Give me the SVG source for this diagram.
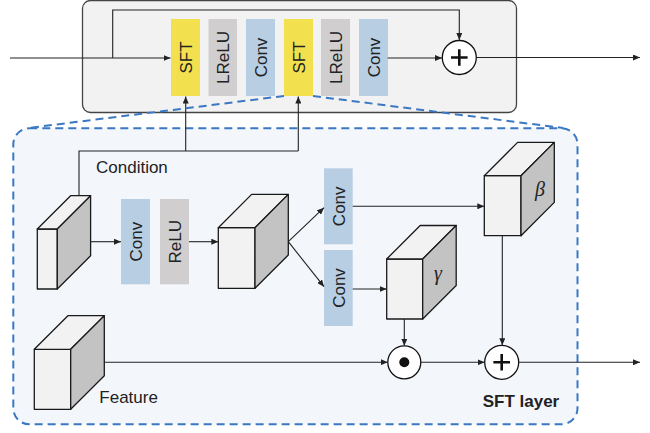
<svg xmlns="http://www.w3.org/2000/svg" width="650" height="433" viewBox="0 0 650 433">
<style>
.lbl{font-family:"Liberation Sans",Arial,sans-serif;font-size:17px;fill:#222;text-anchor:middle}
.txt{font-family:"Liberation Sans",Arial,sans-serif;font-size:17px;fill:#222}
.greek{font-family:"Liberation Serif","DejaVu Serif",serif;font-style:italic;font-size:20px;fill:#222;text-anchor:middle}
.sft{fill:#f3e04e}
.gry{fill:#d0cece}
.blu{fill:#b7cee3}
.face{fill:#f2f2f2;stroke:#1a1a1a;stroke-width:1.3;stroke-linejoin:round}
.side{fill:#c3c3c3;stroke:#1a1a1a;stroke-width:1.3;stroke-linejoin:round}
.ln{fill:none;stroke:#222;stroke-width:1.1}
.arr{fill:none;stroke:#222;stroke-width:1.1;marker-end:url(#ah)}
.op{fill:#fff;stroke:#111;stroke-width:1.3}
.dash{fill:none;stroke:#3a78c4;stroke-width:2;stroke-dasharray:8 5}
</style>
<defs>
<marker id="ah" markerWidth="8" markerHeight="6" refX="7" refY="3" orient="auto" markerUnits="userSpaceOnUse">
<path d="M0,0 L7,3 L0,6 Z" fill="#222"/>
</marker>
</defs>

<g id="sft-layer-box">
<rect x="13.3" y="128.3" width="564.2" height="296" rx="16" fill="#f3f7fc"/>
<rect x="13.3" y="128.3" width="564.2" height="296" rx="16" class="dash"/>
</g>

<g id="resblock">
<rect x="82.5" y="0.5" width="434" height="112" rx="8" fill="#f2f2f2" stroke="#444" stroke-width="1.3"/>
</g>

<g id="blocks-top">
<g id="sft1"><rect class="sft" x="171" y="19" width="29" height="77"/><text class="lbl" transform="translate(191.7,57.5) rotate(-90)">SFT</text></g>
<g id="lrelu1"><rect class="gry" x="208.5" y="19" width="28.5" height="77"/><text class="lbl" transform="translate(229,57.5) rotate(-90)">LReLU</text></g>
<g id="conv1"><rect class="blu" x="246" y="19" width="29" height="77"/><text class="lbl" transform="translate(266.7,57.5) rotate(-90)">Conv</text></g>
<g id="sft2"><rect class="sft" x="284" y="19" width="29" height="77"/><text class="lbl" transform="translate(304.7,57.5) rotate(-90)">SFT</text></g>
<g id="lrelu2"><rect class="gry" x="321" y="19" width="29" height="77"/><text class="lbl" transform="translate(341.7,57.5) rotate(-90)">LReLU</text></g>
<g id="conv2"><rect class="blu" x="359" y="19" width="29" height="77"/><text class="lbl" transform="translate(379.7,57.5) rotate(-90)">Conv</text></g>
<g id="add-top"><circle class="op" cx="459.3" cy="57.5" r="17"/><path d="M451,57.5 H467.6 M459.3,49.2 V65.8" stroke="#111" stroke-width="2.6"/></g>
</g>

<g id="cond-cube">
<rect class="face" x="37.3" y="229" width="20" height="60"/>
<path class="face" d="M37.3,229 L70.6,195.7 L90.6,195.7 L57.3,229 Z"/>
<path class="side" d="M57.3,229 L90.6,195.7 L90.6,255.7 L57.3,289 Z"/>
</g>
<g id="cond-conv"><rect class="blu" x="121" y="199" width="29" height="85.3"/><text class="lbl" transform="translate(141.7,241.7) rotate(-90)">Conv</text></g>
<g id="cond-relu"><rect class="gry" x="160" y="199" width="29" height="85.3"/><text class="lbl" transform="translate(180.7,241.7) rotate(-90)">ReLU</text></g>
<g id="shared-cube">
<rect class="face" x="218.3" y="227.7" width="36.7" height="60.6"/>
<path class="face" d="M218.3,227.7 L251.6,194.4 L288.3,194.4 L255,227.7 Z"/>
<path class="side" d="M255,227.7 L288.3,194.4 L288.3,255 L255,288.3 Z"/>
</g>
<g id="conv-beta"><rect class="blu" x="324" y="168.3" width="28.7" height="76"/><text class="lbl" transform="translate(344.5,206.3) rotate(-90)">Conv</text></g>
<g id="conv-gamma"><rect class="blu" x="324" y="250" width="28.7" height="76"/><text class="lbl" transform="translate(344.5,288) rotate(-90)">Conv</text></g>
<g id="beta-cube">
<rect class="face" x="484.3" y="175.7" width="36.7" height="60"/>
<path class="face" d="M484.3,175.7 L517.6,142.4 L554.3,142.4 L521,175.7 Z"/>
<path class="side" d="M521,175.7 L554.3,142.4 L554.3,202.4 L521,235.7 Z"/>
<text class="greek" x="540" y="196">β</text>
</g>
<g id="gamma-cube">
<rect class="face" x="386.7" y="259" width="36" height="60"/>
<path class="face" d="M386.7,259 L420.2,225.5 L456.2,225.5 L422.7,259 Z"/>
<path class="side" d="M422.7,259 L456.2,225.5 L456.2,285.5 L422.7,319 Z"/>
<text class="greek" x="438" y="280">γ</text>
</g>
<g id="feature-cube">
<rect class="face" x="34.3" y="349.3" width="36.4" height="60"/>
<path class="face" d="M34.3,349.3 L67.9,315.7 L104.3,315.7 L70.7,349.3 Z"/>
<path class="side" d="M70.7,349.3 L104.3,315.7 L104.3,375.7 L70.7,409.3 Z"/>
</g>
<g id="mul"><circle class="op" cx="404.3" cy="362.3" r="16.5"/><circle cx="404.3" cy="362.3" r="5" fill="#111"/></g>
<g id="add-bottom"><circle class="op" cx="501.7" cy="362.3" r="17"/><path d="M493.4,362.3 H510 M501.7,354 V370.6" stroke="#111" stroke-width="2.6"/></g>

<g id="connectors">
<path class="arr" d="M10,58 H170.5"/>
<path class="arr" d="M112.7,58 V10 H459.3 V40"/>
<path class="arr" d="M387.7,58 H442"/>
<path class="arr" d="M476.3,57.5 H640"/>
<path class="ln" d="M79,195.7 V151 H298.3"/>
<path class="arr" d="M185.7,151 V96.5"/>
<path class="arr" d="M298.3,151 V96.5"/>
<path class="arr" d="M90.6,241.7 H121"/>
<path class="arr" d="M189,241.7 H218.3"/>
<path class="arr" d="M288.3,241.7 L324,207.7"/>
<path class="arr" d="M288.3,241.7 L324,286.7"/>
<path class="arr" d="M352.7,206.3 H484.3"/>
<path class="arr" d="M352.7,289 H386.7"/>
<path class="arr" d="M404.3,319 V345.8"/>
<path class="arr" d="M502.3,235.7 V345.3"/>
<path class="arr" d="M104.3,362.2 H387.8"/>
<path class="arr" d="M420.8,362.3 H484.7"/>
<path class="arr" d="M518.7,362.3 H640"/>
<path class="dash" d="M284,96 L28,128"/>
<path class="dash" d="M313,96 L563,128"/>
</g>

<text class="txt" x="96" y="173">Condition</text>
<text class="txt" x="99.3" y="403.3">Feature</text>
<text class="txt" x="482.7" y="407.3" style="font-weight:bold">SFT layer</text>
</svg>
